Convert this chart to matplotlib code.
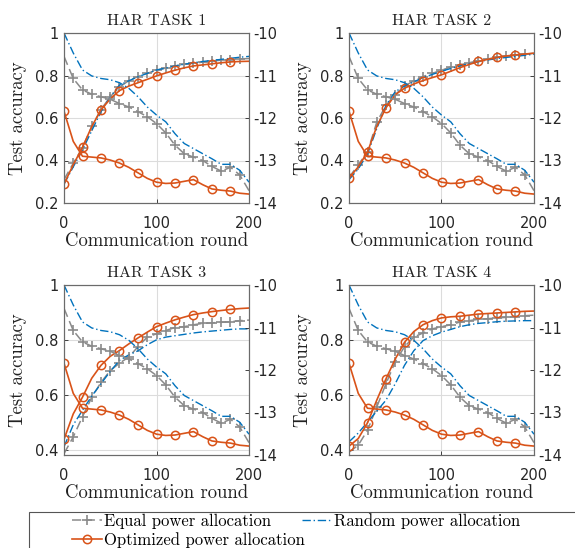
import numpy as np
import matplotlib
matplotlib.use("Agg")
import matplotlib.pyplot as plt
from matplotlib.patches import Rectangle

plt.rcParams["axes.unicode_minus"] = False

# communication rounds (every 10)
rounds = list(range(0, 201, 10))

# transmit power curves (right axis), same for all tasks
pw_equal = [-10.55, -11.07, -11.34, -11.44, -11.50, -11.56, -11.66, -11.74, -11.85, -11.97, -12.13,
            -12.35, -12.64, -12.84, -12.92, -13.00, -13.14, -13.25, -13.16, -13.34, -13.71]
pw_random = [-10.00, -10.47, -10.87, -11.01, -11.07, -11.10, -11.17, -11.30, -11.50, -11.74, -11.93,
             -12.09, -12.37, -12.60, -12.72, -12.84, -12.96, -13.09, -13.09, -13.23, -13.51]
pw_opt = [-11.84, -12.55, -12.90, -12.92, -12.94, -12.99, -13.06, -13.16, -13.29, -13.42, -13.51,
          -13.54, -13.53, -13.49, -13.45, -13.57, -13.67, -13.70, -13.72, -13.77, -13.79]

# test accuracy (left axis)
acc_equal = {
    1: [0.31, 0.387, 0.46, 0.56, 0.64, 0.70, 0.745, 0.776, 0.795, 0.81, 0.825,
        0.835, 0.845, 0.852, 0.858, 0.863, 0.868, 0.872, 0.875, 0.878, 0.88],
    2: [0.32, 0.38, 0.44, 0.58, 0.66, 0.71, 0.75, 0.775, 0.795, 0.81, 0.825,
        0.84, 0.85, 0.86, 0.87, 0.878, 0.885, 0.89, 0.895, 0.90, 0.905],
    3: [0.385, 0.446, 0.52, 0.59, 0.645, 0.688, 0.715, 0.737, 0.775, 0.81, 0.822,
        0.834, 0.845, 0.848, 0.855, 0.86, 0.862, 0.864, 0.866, 0.87, 0.872],
    4: [0.39, 0.416, 0.47, 0.555, 0.64, 0.72, 0.775, 0.81, 0.825, 0.84, 0.848,
        0.855, 0.865, 0.87, 0.875, 0.877, 0.88, 0.882, 0.885, 0.888, 0.89],
}
acc_random = {
    1: [0.289, 0.37, 0.45, 0.54, 0.63, 0.70, 0.755, 0.775, 0.794, 0.81, 0.826,
        0.835, 0.845, 0.853, 0.86, 0.866, 0.871, 0.876, 0.881, 0.886, 0.89],
    2: [0.31, 0.36, 0.43, 0.55, 0.66, 0.724, 0.75, 0.77, 0.79, 0.805, 0.82,
        0.833, 0.845, 0.856, 0.865, 0.873, 0.88, 0.885, 0.89, 0.895, 0.90],
    3: [0.41, 0.49, 0.543, 0.595, 0.64, 0.685, 0.725, 0.745, 0.76, 0.782, 0.80,
        0.81, 0.815, 0.82, 0.825, 0.829, 0.832, 0.835, 0.838, 0.84, 0.84],
    4: [0.428, 0.46, 0.50, 0.54, 0.58, 0.64, 0.707, 0.76, 0.797, 0.815, 0.828,
        0.838, 0.848, 0.855, 0.86, 0.863, 0.866, 0.868, 0.869, 0.87, 0.87],
}
acc_opt = {
    1: [0.289, 0.38, 0.462, 0.56, 0.638, 0.69, 0.729, 0.75, 0.766, 0.782, 0.798,
        0.812, 0.825, 0.836, 0.845, 0.85, 0.855, 0.86, 0.864, 0.866, 0.867],
    2: [0.317, 0.37, 0.44, 0.56, 0.648, 0.71, 0.74, 0.76, 0.776, 0.79, 0.803,
        0.82, 0.837, 0.852, 0.866, 0.876, 0.885, 0.892, 0.897, 0.901, 0.905],
    3: [0.437, 0.53, 0.591, 0.66, 0.707, 0.74, 0.761, 0.785, 0.807, 0.828, 0.848,
        0.861, 0.873, 0.883, 0.892, 0.898, 0.903, 0.907, 0.911, 0.914, 0.916],
    4: [0.412, 0.44, 0.497, 0.58, 0.658, 0.73, 0.791, 0.83, 0.855, 0.87, 0.88,
        0.884, 0.886, 0.89, 0.894, 0.896, 0.898, 0.9, 0.902, 0.904, 0.905],
}

acc_ylim = {1: (0.2, 1.0), 2: (0.2, 1.0), 3: (0.38, 1.0), 4: (0.38, 1.0)}
acc_ticks = {1: [0.2, 0.4, 0.6, 0.8, 1.0], 2: [0.2, 0.4, 0.6, 0.8, 1.0],
             3: [0.4, 0.6, 0.8, 1.0], 4: [0.4, 0.6, 0.8, 1.0]}
pw_ticks = [-14, -13, -12, -11, -10]

GRAY = "#8a8a8a"
BLUE = "#0072BD"
ORANGE = "#D95319"
AXC = "#262626"
SERIF = "cmr10"

W, H = 575, 548
boxes = {1: (64, 33), 2: (349, 33), 3: (64, 285), 4: (349, 285)}
aw, ah = 185, 170

fig = plt.figure(figsize=(W / 100, H / 100), dpi=100)

handles = {}
for task in [1, 2, 3, 4]:
    x0, y0 = boxes[task]
    ax = fig.add_axes([x0 / W, 1 - (y0 + ah) / H, aw / W, ah / H])
    ax2 = ax.twinx()

    for a, data_e, data_r, data_o in [(ax, acc_equal[task], acc_random[task], acc_opt[task]),
                                      (ax2, pw_equal, pw_random, pw_opt)]:
        le, = a.plot(rounds, data_e, color=GRAY, ls=(0, (6, 3)), lw=1.1,
                     marker="+", ms=7, mew=1.2, markevery=list(range(1, 20)))
        lr, = a.plot(rounds, data_r, color=BLUE, ls=(0, (6, 2, 1, 2)), lw=1.0)
        lo, = a.plot(rounds, data_o, color=ORANGE, ls="-", lw=1.2,
                     marker="o", ms=6, mfc="none", mew=1.1, markevery=list(range(0, 19, 2)))
        handles = {"e": le, "r": lr, "o": lo}

    ax.set_xlim(0, 200)
    ax.set_ylim(*acc_ylim[task])
    ax.set_xticks([0, 100, 200])
    ax.set_yticks(acc_ticks[task])
    ax.set_yticklabels(["%g" % t for t in acc_ticks[task]])
    ax2.set_ylim(-14, -10)
    ax2.set_yticks(pw_ticks)
    ax2.set_yticklabels(["%d" % t for t in pw_ticks])

    ax.grid(True, color="#dcdcdc", lw=0.8)
    ax.set_axisbelow(True)
    for a in (ax, ax2):
        a.tick_params(direction="in", length=3, width=0.6, colors=AXC, labelsize=10.5,
                      labelcolor=AXC)
        for lab in a.get_xticklabels() + a.get_yticklabels():
            lab.set_fontfamily("DejaVu Sans")
        for s in a.spines.values():
            s.set_color("#6b6b6b")
            s.set_linewidth(0.8)
    ax.tick_params(axis="x", pad=9)
    ax.tick_params(axis="y", pad=4)
    ax2.tick_params(axis="y", pad=3)

    ax.set_title("HAR TASK %d" % task, fontfamily=SERIF, fontsize=11.5, pad=6, color="#222222")
    ax.set_xlabel("Communication round", fontfamily=SERIF, fontsize=13.5, labelpad=1,
                  color="#222222")
    ax.set_ylabel("Test accuracy", fontfamily=SERIF, fontsize=13.5, labelpad=6, color="#222222")

# legend box, cut by the right and bottom edges
fig.patches.append(Rectangle((29 / W, 1 - 560 / H), 560 / W, 48 / H, transform=fig.transFigure,
                             fill=False, edgecolor="#555555", lw=0.8, clip_on=False))
leg_opts = dict(loc="upper left", frameon=False, borderpad=0, borderaxespad=0,
                handlelength=1.8, handletextpad=0.15, prop={"family": SERIF, "size": 12})
fig.legend([handles["e"], handles["r"]],
           ["Equal power allocation", "Random power allocation"],
           ncol=2, columnspacing=1.8, bbox_to_anchor=(72 / W, 1 - 513 / H), **leg_opts)
fig.legend([handles["o"]], ["Optimized power allocation"],
           bbox_to_anchor=(72 / W, 1 - 532 / H), **leg_opts)

fig.savefig("out.png", dpi=100)
